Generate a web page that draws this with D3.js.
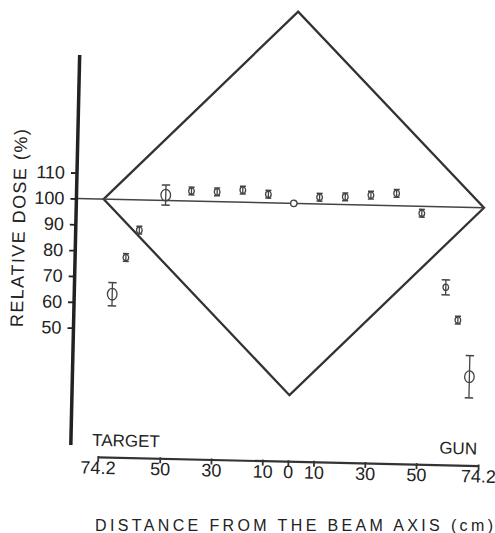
<!DOCTYPE html>
<html>
<head>
<meta charset="utf-8">
<script src="https://cdn.jsdelivr.net/npm/d3@7"></script>
<style>
  html, body { margin: 0; padding: 0; background: #fff; }
  svg { display: block; }
  text { font-family: "Liberation Sans Narrow", "Arial Narrow", "Liberation Sans", Arial, sans-serif; fill: #222; }
</style>
</head>
<body>
<div id="chart"></div>
<script>
// ---- data ----
const positions = [-70, -65, -60, -50, -40, -30, -20, -10, 0, 10, 20, 30, 40, 50, 60, 65, 70]; // cm (target side negative)
const dose      = [63.3, 77.6, 88.3, 102.1, 103.9, 103.8, 104.7, 103.3, 100, 102.6, 103.0, 103.9, 104.8, 97.3, 68.9, 56.3, 34.5]; // %
const doseError = [4.5, 1.5, 1.5, 3.9, 1.5, 1.5, 1.5, 1.5, 0, 1.5, 1.5, 1.5, 1.5, 1.5, 2.9, 1.5, 8.2];
const diamondX  = [-74.2, 0, 74.2, 0];
const diamondY  = [100, 174.2, 100, 25.8];
const referenceDose = 100;
const xTicks      = [-74.2, -50, -30, -10, 0, 10, 30, 50, 74.2];
const xTickLabels = ["74.2", "50", "30", "10", "0", "10", "30", "50", "74.2"];
const yTicks      = [50, 60, 70, 80, 90, 100, 110];
const yAxisExtent = [4.6, 155.5];
const sideLabels  = ["TARGET", "GUN"];
const xTitle = "DISTANCE FROM THE BEAM AXIS (cm)";
const yTitle = "RELATIVE DOSE (%)";

// ---- layout ----
const W = 495, H = 533;
const ink = "#333";
const svg = d3.select("#chart").append("svg").attr("width", W).attr("height", H);

const x = d3.scaleLinear().domain([-74.2, 74.2]).range([102.5, 483]);
const y = d3.scaleLinear().domain([50, 110]).range([332.6, 177.5]);
const yAxisX = 75.3;
const xAxisY = 461.2;

// the scanned figure is slightly tilted
const g = svg.append("g").attr("transform", "rotate(1.3,290,250)");

// diamond
const diamond = diamondX.map((d, i) => [x(d), y(diamondY[i])]);
g.append("path")
  .attr("d", d3.line()(diamond) + "Z")
  .attr("fill", "none").attr("stroke", ink).attr("stroke-width", 2.3)
  .attr("stroke-linejoin", "miter");

// 100% reference line
g.append("line")
  .attr("x1", yAxisX).attr("x2", x(74.2))
  .attr("y1", y(referenceDose)).attr("y2", y(referenceDose))
  .attr("stroke", "#444").attr("stroke-width", 1.5);

// y axis
g.append("line")
  .attr("x1", yAxisX).attr("x2", yAxisX)
  .attr("y1", y(yAxisExtent[1])).attr("y2", y(yAxisExtent[0]))
  .attr("stroke", "#222").attr("stroke-width", 3.5);
const ya = g.append("g").attr("transform", `translate(${yAxisX},0)`)
  .call(d3.axisLeft(y).tickValues(yTicks).tickSize(6).tickPadding(6).tickFormat(d3.format("d")));
ya.select(".domain").remove();
ya.selectAll(".tick line").attr("stroke", "#222").attr("stroke-width", 1.8);
ya.selectAll(".tick text").attr("font-size", 18).attr("fill", "#222")
  .style("font-family", '"Liberation Sans Narrow", "Arial Narrow", "Liberation Sans", Arial, sans-serif');

g.append("text")
  .attr("transform", `translate(24.5,${y(100) + 31}) rotate(-90)`)
  .attr("text-anchor", "middle")
  .attr("font-size", 18)
  .style("font-family", '"Liberation Sans", Arial, sans-serif')
  .attr("textLength", 198).attr("lengthAdjust", "spacing")
  .text(yTitle);

// x axis
const xa = g.append("g").attr("transform", `translate(0,${xAxisY})`)
  .call(d3.axisBottom(x).tickValues(xTicks).tickSize(5).tickSizeOuter(0)
    .tickFormat((d, i) => xTickLabels[i]));
xa.select(".domain").attr("stroke", ink).attr("stroke-width", 2.2);
xa.selectAll(".tick line").attr("stroke", ink).attr("stroke-width", 1.8).attr("y1", -1);
xa.selectAll(".tick text").attr("y", 17).attr("dy", null).attr("font-size", 18).attr("fill", "#222")
  .style("font-family", '"Liberation Sans Narrow", "Arial Narrow", "Liberation Sans", Arial, sans-serif');

g.append("text").attr("x", x(-74.2) - 6).attr("y", xAxisY - 11)
  .attr("font-size", 17).style("font-family", '"Liberation Sans", Arial, sans-serif')
  .text(sideLabels[0]);
g.append("text").attr("x", x(74.2) - 1.5).attr("y", xAxisY - 11)
  .attr("text-anchor", "end")
  .attr("font-size", 17).style("font-family", '"Liberation Sans", Arial, sans-serif')
  .text(sideLabels[1]);

// data points with error bars
const pts = positions.map((p, i) => ({ p, v: dose[i], e: doseError[i] }));
const pg = g.append("g").selectAll("g").data(pts).join("g")
  .attr("transform", d => `translate(${x(d.p)},${y(d.v)})`);
const ptColor = "#444";
pg.filter(d => d.e > 0).each(function (d) {
  const s = d3.select(this);
  const big = d.e >= 3.5;
  const hw = d.e >= 2.5 ? 4.2 : 3;
  const top = y(d.v + d.e) - y(d.v), bot = y(d.v - d.e) - y(d.v);
  s.append("line").attr("x1", 0).attr("x2", 0).attr("y1", top).attr("y2", bot)
    .attr("stroke", ptColor).attr("stroke-width", 1.3);
  s.append("line").attr("x1", -hw).attr("x2", hw).attr("y1", top).attr("y2", top)
    .attr("stroke", ptColor).attr("stroke-width", 1.5);
  s.append("line").attr("x1", -hw).attr("x2", hw).attr("y1", bot).attr("y2", bot)
    .attr("stroke", ptColor).attr("stroke-width", 1.5);
  s.append("ellipse").attr("rx", big ? 4.8 : 2.8).attr("ry", big ? 5.8 : 3.2)
    .attr("fill", "none").attr("stroke", ptColor).attr("stroke-width", 1.3);
});
pg.filter(d => d.e === 0).append("circle").attr("r", 3.2)
  .attr("fill", "#fff").attr("stroke", ptColor).attr("stroke-width", 1.3);

// x axis title (not tilted in the scan)
svg.append("text").attr("x", 95).attr("y", 531)
  .attr("font-size", 16).style("font-family", '"Liberation Sans", Arial, sans-serif')
  .attr("textLength", 398).attr("lengthAdjust", "spacing")
  .text(xTitle);
</script>
</body>
</html>
